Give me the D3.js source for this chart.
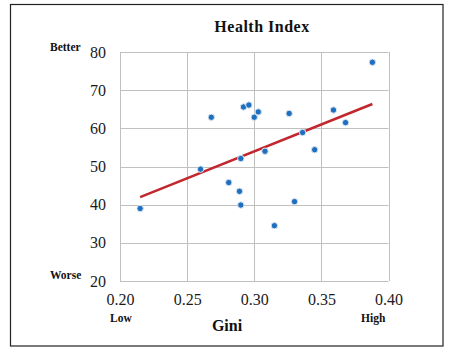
<!DOCTYPE html>
<html>
<head>
<meta charset="utf-8">
<script src="https://cdn.jsdelivr.net/npm/d3@7"></script>
<style>
  body { margin: 0; background: #fff; }
  svg text { font-family: "Liberation Serif", "DejaVu Serif", serif; fill: #111; }
  .tickLabels text { font-size: 16px; fill: #1a1a1a; }
</style>
</head>
<body>
<div id="chart"></div>
<script>
var svgWidth = 450;
var svgHeight = 348;

// gini coefficient vs health index, one entry per country
var gini = [0.215, 0.260, 0.268, 0.281, 0.289, 0.290, 0.290, 0.292, 0.296, 0.300,
            0.303, 0.308, 0.315, 0.326, 0.330, 0.336, 0.345, 0.359, 0.368, 0.388];
var health = [39.0, 49.3, 62.9, 45.8, 43.5, 39.9, 52.1, 65.6, 66.1, 62.9,
              64.3, 54.0, 34.5, 63.9, 40.8, 58.9, 54.4, 64.8, 61.5, 77.3];

var xTicks = [0.20, 0.25, 0.30, 0.35, 0.40];
var yTicks = [20, 30, 40, 50, 60, 70, 80];

var margin = { top: 52, right: 62, bottom: 67, left: 120 };
var width = 388.5 - margin.left;
var height = 281 - margin.top;

var svg = d3.select("#chart")
  .append("svg")
  .attr("width", svgWidth)
  .attr("height", svgHeight);

// outer frame
svg.append("rect")
  .attr("x", 10.5)
  .attr("y", 4.5)
  .attr("width", 432.5)
  .attr("height", 341.5)
  .attr("fill", "none")
  .attr("stroke", "#222")
  .attr("stroke-width", 1.2);

var chartGroup = svg.append("g")
  .attr("transform", `translate(${margin.left}, ${margin.top})`);

var xScale = d3.scaleLinear()
  .domain([0.20, 0.40])
  .range([0, width]);

var yScale = d3.scaleLinear()
  .domain([20, 80])
  .range([height, 0]);

// gridlines
chartGroup.selectAll(".hgrid")
  .data(yTicks)
  .enter()
  .append("line")
  .attr("x1", 0)
  .attr("x2", width)
  .attr("y1", d => Math.round(yScale(d)) + 0.5)
  .attr("y2", d => Math.round(yScale(d)) + 0.5)
  .attr("stroke", "#c0c0c0");

chartGroup.selectAll(".vgrid")
  .data(xTicks)
  .enter()
  .append("line")
  .attr("x1", d => Math.round(xScale(d)) + 0.5)
  .attr("x2", d => Math.round(xScale(d)) + 0.5)
  .attr("y1", 0)
  .attr("y2", height)
  .attr("stroke", "#c0c0c0");

var bottomAxis = d3.axisBottom(xScale)
  .tickValues(xTicks)
  .tickFormat(d3.format(".2f"))
  .tickSize(0)
  .tickPadding(13);

var leftAxis = d3.axisLeft(yScale)
  .tickValues(yTicks)
  .tickSize(0)
  .tickPadding(14);

chartGroup.append("g")
  .attr("class", "tickLabels")
  .attr("transform", `translate(0, ${height})`)
  .call(bottomAxis)
  .call(g => g.select(".domain").remove());

chartGroup.append("g")
  .attr("class", "tickLabels")
  .call(leftAxis)
  .call(g => g.select(".domain").remove());

// least squares trendline across the data range
var mx = d3.mean(gini), my = d3.mean(health);
var sxy = d3.sum(gini, (g, i) => (g - mx) * (health[i] - my));
var sxx = d3.sum(gini, g => (g - mx) * (g - mx));
var slope = sxy / sxx;
var intercept = my - slope * mx;
var trendX = d3.extent(gini);

chartGroup.append("line")
  .attr("x1", xScale(trendX[0]))
  .attr("y1", yScale(intercept + slope * trendX[0]))
  .attr("x2", xScale(trendX[1]))
  .attr("y2", yScale(intercept + slope * trendX[1]))
  .attr("stroke", "#c1272d")
  .attr("stroke-width", 2.5);

//points
chartGroup.selectAll("circle")
  .data(gini)
  .enter()
  .append("circle")
  .attr("cx", d => xScale(d))
  .attr("cy", (d, i) => yScale(health[i]))
  .attr("r", 3.2)
  .attr("fill", "#1f6fc0")
  .attr("stroke", "#dde6ef")
  .attr("stroke-width", 1);

// title and axis labels
svg.append("text")
  .attr("x", 262)
  .attr("y", 32)
  .attr("text-anchor", "middle")
  .attr("font-size", 16)
  .attr("font-weight", "bold")
  .attr("letter-spacing", 0.5)
  .text("Health Index");

svg.append("text")
  .attr("x", 50)
  .attr("y", 51)
  .attr("font-size", 11.5)
  .attr("font-weight", "bold")
  .text("Better");

svg.append("text")
  .attr("x", 50)
  .attr("y", 279)
  .attr("font-size", 11.5)
  .attr("font-weight", "bold")
  .text("Worse");

svg.append("text")
  .attr("x", 110)
  .attr("y", 322)
  .attr("font-size", 11.5)
  .attr("font-weight", "bold")
  .text("Low");

svg.append("text")
  .attr("x", 361)
  .attr("y", 322)
  .attr("font-size", 11.5)
  .attr("font-weight", "bold")
  .text("High");

svg.append("text")
  .attr("x", 227)
  .attr("y", 331)
  .attr("text-anchor", "middle")
  .attr("font-size", 16)
  .attr("font-weight", "bold")
  .text("Gini");
</script>
</body>
</html>
